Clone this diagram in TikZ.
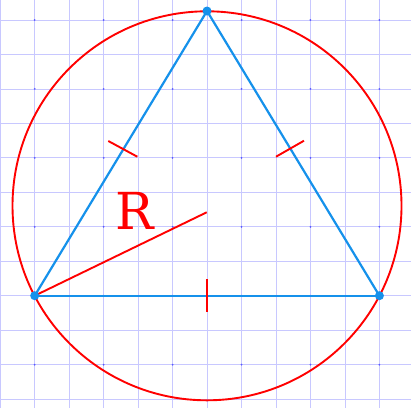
\documentclass[tikz,border=0pt]{standalone}
\usepackage{fontspec}
\newfontfamily\labfont{DejaVu Serif}
\definecolor{segblue}{RGB}{21,145,235}
\definecolor{gridcol}{RGB}{200,200,255}
\definecolor{dotcol}{RGB}{90,90,255}
\begin{document}
\begin{tikzpicture}[x=1pt,y=-1pt,
  gridline/.style={draw=gridcol,line width=0.8pt},
  seg/.style={draw=segblue,line width=2.2pt},
  redline/.style={draw=red,line width=1.9pt},
  vertex/.style={circle,fill=segblue,inner sep=0pt,minimum size=9pt},
  gdot/.style={circle,fill=dotcol,inner sep=0pt,minimum size=2pt}]
\useasboundingbox[fill=white] (0,0) rectangle (411,408);
% grid
\foreach \k in {-1,...,11} {
  \draw[gridline] ({34.7+34.47*\k},0) -- ({34.7+34.47*\k},408);
}
\foreach \k in {0,...,11} {
  \draw[gridline] (0,{20+34.47*\k}) -- (411,{20+34.47*\k});
}
\foreach \i in {0,...,5} {
  \foreach \j in {0,...,5} {
    \node[gdot] at ({34.7+68.94*\i},{20+68.94*\j}) {};
  }
}
% circle
\coordinate (O) at (207,205.8);
\draw[redline] (O) circle[radius=194.5];
% triangle
\coordinate (A) at (34.7,295.7);
\coordinate (B) at (379.4,295.7);
\coordinate (C) at (207,11);
\draw[seg] (A) -- (B);
\draw[seg] (A) -- (C);
\draw[seg] (B) -- (C);
% radius
\coordinate (Rend) at (206.7,212.3);
\draw[redline] (A) -- (Rend);
% ticks
\coordinate (t1a) at (108.3,141);
\coordinate (t1b) at (137.3,156.7);
\coordinate (t2a) at (276,156.7);
\coordinate (t2b) at (304,140.7);
\coordinate (t3a) at (207,279);
\coordinate (t3b) at (207,311.5);
\draw[redline] (t1a) -- (t1b);
\draw[redline] (t2a) -- (t2b);
\draw[redline] (t3a) -- (t3b);
% vertices
\node[vertex] (vA) at (A) {};
\node[vertex] (vB) at (B) {};
\node[vertex] (vC) at (C) {};
% label
\node[text=red,font=\labfont\fontsize{51}{51}\selectfont,anchor=base west,inner sep=0pt] (lab) at (115.5,229.3) {R};
\end{tikzpicture}
\end{document}
